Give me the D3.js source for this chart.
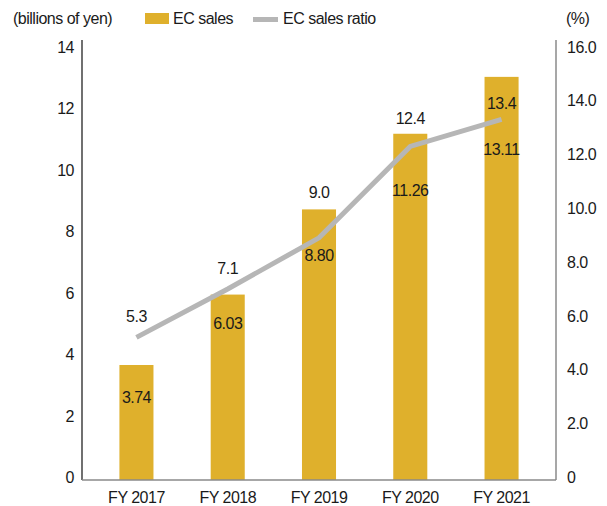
<!DOCTYPE html>
<html>
<head>
<meta charset="utf-8">
<script src="https://cdn.jsdelivr.net/npm/d3@7"></script>
<style>
  html, body { margin: 0; padding: 0; background: #fff; }
  svg text { font-family: "Liberation Sans", Arial, sans-serif; font-size: 16px; fill: #1a1a1a; letter-spacing: -0.5px; }
</style>
</head>
<body>
<svg id="chart" width="607" height="506"></svg>
<script>
// Fiscal years and values
const years = ["FY 2017", "FY 2018", "FY 2019", "FY 2020", "FY 2021"];
const ecSales = [3.74, 6.03, 8.80, 11.26, 13.11];      // billions of yen
const ecRatio = [5.3, 7.1, 9.0, 12.4, 13.4];           // %
const leftTicks = [0, 2, 4, 6, 8, 10, 12, 14];
const rightTicks = [0, 2, 4, 6, 8, 10, 12, 14, 16];

// Vertical nudges for value labels so they clear the line and bars
const barLabelShift = [33, 29, 46, 57, 73];
const ratioLabelShift = [-21, -20, -45, -28, -16];

const svg = d3.select("#chart");
const plotLeft = 82, plotRight = 556, plotBottom = 480, plotTop = 49.5, axisTop = 40;

const x = d3.scaleBand().domain(years).range([plotLeft, plotRight]).paddingInner(0.627).paddingOuter(0.41);
const yL = d3.scaleLinear().domain([0, 14]).range([plotBottom, plotTop]);
const yR = d3.scaleLinear().domain([0, 16]).range([plotBottom, plotTop]);

const barColor = "#dfb02c";
const lineColor = "#b6b6b6";

// Bars
svg.append("g").selectAll("rect").data(ecSales).join("rect")
  .attr("x", (d, i) => x(years[i]))
  .attr("width", x.bandwidth())
  .attr("y", d => yL(d))
  .attr("height", d => plotBottom - yL(d))
  .attr("fill", barColor);

// Ratio line
const line = d3.line().x((d, i) => x(years[i]) + x.bandwidth() / 2).y(d => yR(d));
svg.append("path").datum(ecRatio)
  .attr("d", line)
  .attr("fill", "none")
  .attr("stroke", lineColor)
  .attr("stroke-width", 5);

// Left axis
const gL = svg.append("g").attr("transform", `translate(${plotLeft},0)`)
  .call(d3.axisLeft(yL).tickValues(leftTicks).tickSize(0).tickPadding(8).tickFormat(d3.format("d")));
gL.select(".domain").remove();
gL.selectAll("text").attr("dy", "0.35em").attr("y", -3).style("font-size", "16px");
svg.append("line").attr("x1", plotLeft).attr("x2", plotLeft).attr("y1", axisTop).attr("y2", plotBottom)
  .attr("stroke", "#111").attr("stroke-width", 1.2);

// Right axis
const gR = svg.append("g").attr("transform", `translate(${plotRight},0)`)
  .call(d3.axisRight(yR).tickValues(rightTicks).tickSize(0).tickPadding(11).tickFormat(d => d === 0 ? "0" : d3.format(".1f")(d)));
gR.select(".domain").remove();
gR.selectAll("text").attr("dy", "0.35em").attr("y", -3).style("font-size", "16px");
svg.append("line").attr("x1", plotRight).attr("x2", plotRight).attr("y1", axisTop).attr("y2", plotBottom)
  .attr("stroke", "#8a8a8a").attr("stroke-width", 1.5);

// Bottom axis
const gB = svg.append("g").attr("transform", `translate(0,${plotBottom})`)
  .call(d3.axisBottom(x).tickSize(0).tickPadding(12));
gB.select(".domain").remove();
gB.selectAll("text").attr("dy", "0.71em").style("font-size", "16px");
svg.append("line").attr("x1", plotLeft).attr("x2", plotRight).attr("y1", plotBottom).attr("y2", plotBottom)
  .attr("stroke", "#8a8a8a").attr("stroke-width", 1.5);

// Bar value labels
svg.append("g").selectAll("text").data(ecSales).join("text")
  .attr("x", (d, i) => x(years[i]) + x.bandwidth() / 2)
  .attr("y", (d, i) => yL(d) + barLabelShift[i])
  .attr("text-anchor", "middle")
  .attr("dominant-baseline", "central")
  .text(d => d3.format(".2f")(d));

// Ratio value labels
svg.append("g").selectAll("text").data(ecRatio).join("text")
  .attr("x", (d, i) => x(years[i]) + x.bandwidth() / 2)
  .attr("y", (d, i) => yR(d) + ratioLabelShift[i])
  .attr("text-anchor", "middle")
  .attr("dominant-baseline", "central")
  .text(d => d3.format(".1f")(d));

// Units and legend
svg.append("text").attr("x", 13).attr("y", 18).attr("dominant-baseline", "central").text("(billions of yen)");
svg.append("text").attr("x", 566).attr("y", 18).attr("dominant-baseline", "central").text("(%)");
svg.append("rect").attr("x", 145).attr("y", 13).attr("width", 24).attr("height", 11).attr("fill", barColor);
svg.append("text").attr("x", 173).attr("y", 18).attr("dominant-baseline", "central").text("EC sales");
svg.append("line").attr("x1", 253).attr("x2", 278).attr("y1", 19.5).attr("y2", 19.5)
  .attr("stroke", lineColor).attr("stroke-width", 5);
svg.append("text").attr("x", 283).attr("y", 18).attr("dominant-baseline", "central").text("EC sales ratio");
</script>
</body>
</html>
